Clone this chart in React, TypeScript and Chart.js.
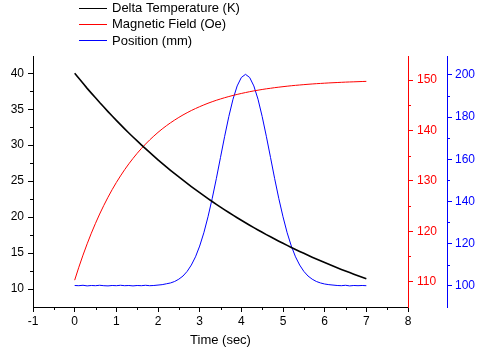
import React, { useEffect, useRef } from "react";
import { Chart, registerables } from "chart.js";
Chart.register(...registerables);

const timeSec = [
  0.0, 0.1, 0.2, 0.3, 0.4, 0.5, 0.6, 0.7, 0.8, 0.9,
  1.0, 1.1, 1.2, 1.3, 1.4, 1.5, 1.6, 1.7, 1.8, 1.9,
  2.0, 2.1, 2.2, 2.3, 2.4, 2.5, 2.6, 2.7, 2.8, 2.9,
  3.0, 3.1, 3.2, 3.3, 3.4, 3.5, 3.6, 3.7, 3.8, 3.9,
  4.0, 4.1, 4.2, 4.3, 4.4, 4.5, 4.6, 4.7, 4.8, 4.9,
  5.0, 5.1, 5.2, 5.3, 5.4, 5.5, 5.6, 5.7, 5.8, 5.9,
  6.0, 6.1, 6.2, 6.3, 6.4, 6.5, 6.6, 6.7, 6.8, 6.9,
  7.0,
];

const deltaTemperature = [
  40.0, 39.3, 38.6, 37.9, 37.24, 36.6, 35.93, 35.3, 34.67, 34.05,
  33.45, 32.86, 32.27, 31.7, 31.14, 30.59, 30.05, 29.51, 28.99, 28.48,
  27.97, 27.48, 26.99, 26.51, 26.04, 25.58, 25.13, 24.68, 24.24, 23.81,
  23.39, 22.98, 22.57, 22.17, 21.78, 21.39, 21.01, 20.64, 20.27, 19.91,
  19.56, 19.21, 18.87, 18.54, 18.21, 17.89, 17.57, 17.26, 16.95, 16.65,
  16.36, 16.07, 15.78, 15.5, 15.23, 14.96, 14.69, 14.43, 14.18, 13.93,
  13.68, 13.44, 13.2, 12.96, 12.73, 12.51, 12.29, 12.07, 11.85, 11.64,
  11.44,
];

const magneticField = [
  110.3, 112.87, 115.27, 117.51, 119.62, 121.58, 123.42, 125.14, 126.75, 128.26,
  129.67, 130.98, 132.22, 133.37, 134.45, 135.46, 136.4, 137.28, 138.11, 138.88,
  139.61, 140.29, 140.92, 141.51, 142.06, 142.58, 143.07, 143.52, 143.95, 144.34,
  144.71, 145.06, 145.39, 145.69, 145.98, 146.24, 146.49, 146.72, 146.94, 147.14,
  147.33, 147.51, 147.68, 147.84, 147.98, 148.12, 148.25, 148.36, 148.48, 148.58,
  148.68, 148.77, 148.86, 148.94, 149.01, 149.08, 149.15, 149.21, 149.27, 149.32,
  149.37, 149.42, 149.46, 149.5, 149.54, 149.58, 149.61, 149.64, 149.67, 149.7,
  149.73,
];

const position = [
  100.1, 100.0, 100.2, 99.9, 100.1, 100.0, 100.2, 100.0, 99.9, 100.1,
  100.0, 100.2, 100.0, 100.1, 99.9, 100.1, 100.0, 100.2, 100.0, 100.1,
  100.3, 100.5, 100.9, 101.3, 102.0, 103.1, 104.6, 106.8, 109.8, 113.7,
  118.8, 125.1, 132.7, 141.3, 150.8, 160.9, 170.9, 180.3, 188.5, 194.8,
  198.8, 200.3, 198.8, 194.8, 188.5, 180.3, 170.9, 160.9, 150.8, 141.3,
  132.7, 125.1, 118.8, 113.7, 109.8, 106.8, 104.6, 103.1, 102.0, 101.3,
  100.8, 100.5, 100.3, 100.1, 100.0, 100.2, 99.9, 100.1, 100.0, 100.1,
  100.0,
];

const seriesLabels = ["Delta Temperature (K)", "Magnetic Field (Oe)", "Position (mm)"];
const seriesColors = ["#000000", "#ff0000", "#0000ff"];

const xTicks = [-1, 0, 1, 2, 3, 4, 5, 6, 7, 8];
const xMinor = [-0.5, 0.5, 1.5, 2.5, 3.5, 4.5, 5.5, 6.5, 7.5];
const tempTicks = [10, 15, 20, 25, 30, 35, 40];
const tempMinor = [12.5, 17.5, 22.5, 27.5, 32.5, 37.5];
const fieldTicks = [110, 120, 130, 140, 150];
const fieldMinor = [115, 125, 135, 145];
const posTicks = [100, 120, 140, 160, 180, 200];
const posMinor = [110, 130, 150, 170, 190];

const FONT = '"Liberation Sans", Arial, sans-serif';

const minorTicksPlugin = {
  id: "minorTicks",
  afterDraw(chart: any) {
    const ctx = chart.ctx;
    const area = chart.chartArea;
    const draw = (color: string, x1: number, y1: number, x2: number, y2: number) => {
      ctx.strokeStyle = color;
      ctx.lineWidth = 1;
      ctx.beginPath();
      ctx.moveTo(x1, y1);
      ctx.lineTo(x2, y2);
      ctx.stroke();
    };
    ctx.save();
    const sx = chart.scales.x;
    xMinor.forEach((v) => {
      const px = Math.round(sx.getPixelForValue(v)) + 0.5;
      draw("#000", px, area.bottom, px, area.bottom + 3);
    });
    const sy = chart.scales.yTemp;
    tempMinor.forEach((v) => {
      const py = Math.round(sy.getPixelForValue(v)) + 0.5;
      draw("#000", area.left, py, area.left - 3, py);
    });
    const sf = chart.scales.yField;
    fieldMinor.forEach((v) => {
      const py = Math.round(sf.getPixelForValue(v)) + 0.5;
      draw("#ff0000", sf.left, py, sf.left + 3, py);
    });
    const sp = chart.scales.yPos;
    posMinor.forEach((v) => {
      const py = Math.round(sp.getPixelForValue(v)) + 0.5;
      draw("#0000ff", sp.left, py, sp.left + 3, py);
    });
    ctx.restore();
  },
};

const legendPlugin = {
  id: "customLegend",
  afterDraw(chart: any) {
    const ctx = chart.ctx;
    ctx.save();
    chart.data.datasets.forEach((ds: any, i: number) => {
      const y = 7.5 + i * 16.3;
      const ly = Math.round(y) + 0.5;
      ctx.strokeStyle = ds.borderColor;
      ctx.lineWidth = 1;
      ctx.beginPath();
      ctx.moveTo(79, ly);
      ctx.lineTo(107, ly);
      ctx.stroke();
      ctx.fillStyle = "#000";
      ctx.font = "13px " + FONT;
      ctx.textBaseline = "middle";
      ctx.textAlign = "left";
      ctx.fillText(ds.label, 112, y + 1);
    });
    ctx.restore();
  },
};

function makeTicks(values: number[]) {
  return (scale: any) => {
    scale.ticks = values.map((v) => ({ value: v }));
  };
}

export default function App() {
  const canvasRef = useRef<HTMLCanvasElement | null>(null);

  useEffect(() => {
    document.body.style.margin = "0";
    const canvas = canvasRef.current;
    if (!canvas) return;
    const series = [deltaTemperature, magneticField, position];
    const axisIds = ["yTemp", "yField", "yPos"];
    const chart = new Chart(canvas, {
      type: "line",
      data: {
        datasets: series.map((vals, i) => ({
          label: seriesLabels[i],
          data: timeSec.map((t, j) => ({ x: t, y: vals[j] })),
          borderColor: seriesColors[i],
          backgroundColor: seriesColors[i],
          borderWidth: i === 0 ? 1.6 : 1,
          pointRadius: 0,
          tension: 0,
          yAxisID: axisIds[i],
        })),
      },
      options: {
        responsive: false,
        animation: false,
        layout: { padding: { top: 56, left: 0, right: 0, bottom: 0 } },
        plugins: {
          legend: { display: false },
          tooltip: { enabled: false },
        },
        scales: {
          x: {
            type: "linear",
            min: -1,
            max: 8,
            afterBuildTicks: makeTicks(xTicks),
            afterFit: (s: any) => {
              s.height = 53;
            },
            border: { color: "#000", width: 1 },
            grid: { drawOnChartArea: false, tickLength: 5, tickColor: "#000", tickWidth: 1 },
            ticks: {
              color: "#000",
              font: { family: FONT, size: 12 },
              padding: 2,
              autoSkip: false,
              maxRotation: 0,
              callback: (v: any) => String(v),
            },
            title: {
              display: true,
              text: "Time (sec)",
              color: "#000",
              font: { family: FONT, size: 13 },
              padding: { top: 0, bottom: 12 },
            },
          },
          yTemp: {
            type: "linear",
            position: "left",
            min: 7.5,
            max: 42.4,
            afterBuildTicks: makeTicks(tempTicks),
            afterFit: (s: any) => {
              s.width = 33;
            },
            border: { color: "#000", width: 1 },
            grid: { drawOnChartArea: false, tickLength: 5, tickColor: "#000", tickWidth: 1 },
            ticks: {
              color: "#000",
              font: { family: FONT, size: 12 },
              padding: 4,
              autoSkip: false,
              callback: (v: any) => String(v),
            },
          },
          yField: {
            type: "linear",
            position: "right",
            weight: 1,
            min: 104.98,
            max: 154.76,
            afterBuildTicks: makeTicks(fieldTicks),
            afterFit: (s: any) => {
              s.width = 39;
            },
            border: { color: "#ff0000", width: 1 },
            grid: { drawOnChartArea: false, tickLength: 5, tickColor: "#ff0000", tickWidth: 1 },
            ticks: {
              color: "#ff0000",
              font: { family: FONT, size: 12 },
              padding: 4,
              autoSkip: false,
              callback: (v: any) => String(v),
            },
          },
          yPos: {
            type: "linear",
            position: "right",
            weight: 2,
            min: 89.89,
            max: 209.0,
            afterBuildTicks: makeTicks(posTicks),
            afterFit: (s: any) => {
              s.width = 32;
            },
            border: { color: "#0000ff", width: 1 },
            grid: { drawOnChartArea: false, tickLength: 5, tickColor: "#0000ff", tickWidth: 1 },
            ticks: {
              color: "#0000ff",
              font: { family: FONT, size: 12 },
              padding: 3,
              autoSkip: false,
              callback: (v: any) => String(v),
            },
          },
        },
      } as any,
      plugins: [minorTicksPlugin, legendPlugin],
    });
    return () => chart.destroy();
  }, []);

  return (
    <canvas
      ref={canvasRef}
      width={479}
      height={360}
      style={{ display: "block", width: "479px", height: "360px" }}
    />
  );
}
